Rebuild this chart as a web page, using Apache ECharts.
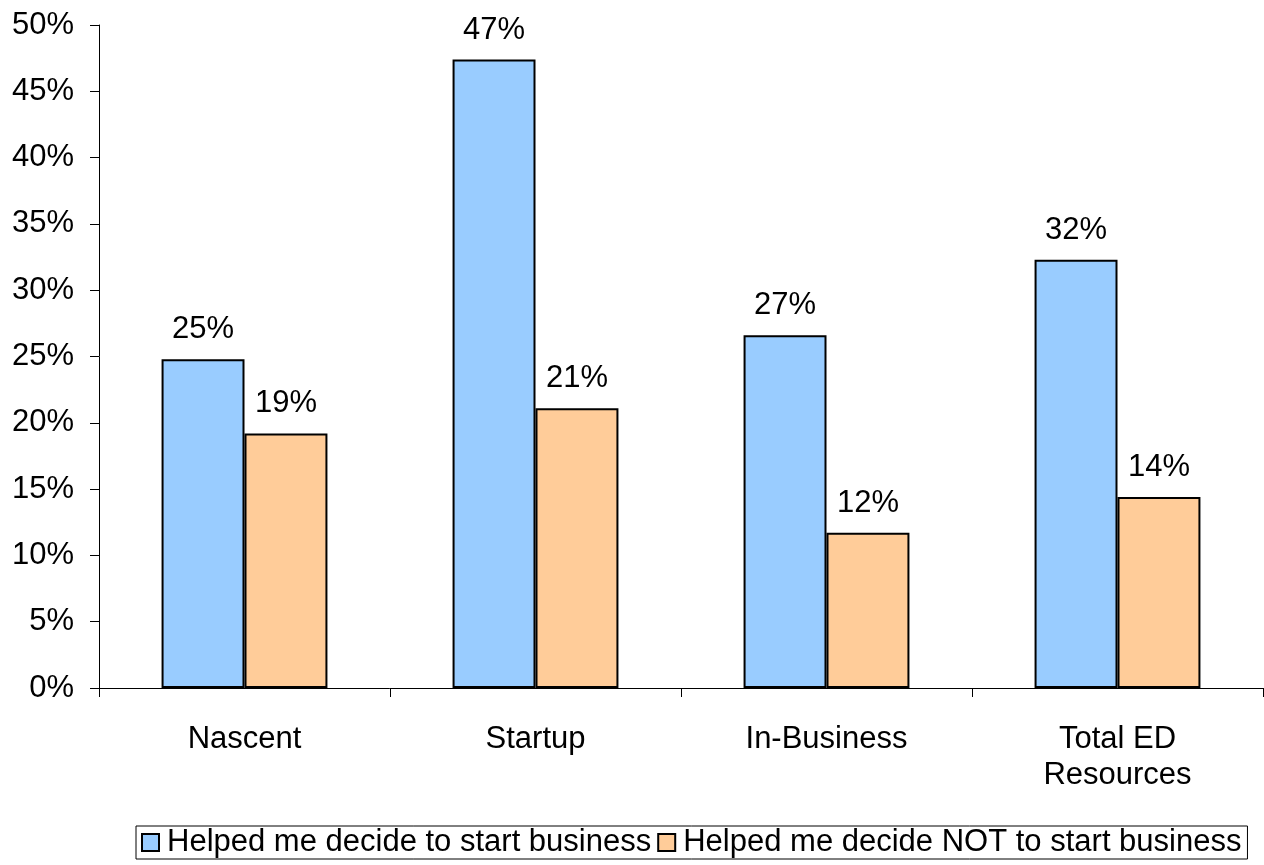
<!DOCTYPE html>
<html>
<head>
<meta charset="utf-8">
<script src="https://cdn.jsdelivr.net/npm/echarts@6/dist/echarts.min.js"></script>
<style>
html, body { margin: 0; padding: 0; background: #fff; }
#main { width: 1264px; height: 865px; }
</style>
</head>
<body>
<div id="main"></div>
<script>
var categories = ['Nascent', 'Startup', 'In-Business', 'Total ED\nResources'];
var helpedStart = [24.8, 47.4, 26.6, 32.3];
var helpedNot = [19.2, 21.1, 11.7, 14.4];
var seriesNames = ['Helped me decide to start business', 'Helped me decide NOT to start business'];

var font = 'Liberation Sans, Arial, sans-serif';
var myChart = echarts.init(document.getElementById('main'));

function labelOpt() {
	return {
		show: true,
		position: 'top',
		distance: 14,
		color: '#000',
		fontSize: 31,
		fontFamily: font,
		formatter: function (p) {
			return Math.round(p.value) + '%';
		}
	};
}

var option = {
	animation: false,
	grid: { left: 99, right: 1, top: 25, bottom: 177 },
	legend: {
		bottom: 6,
		left: 136,
		icon: 'rect',
		itemWidth: 17,
		itemHeight: 17,
		itemGap: 6,
		padding: [1, 6, 1, 5],
		borderColor: '#000',
		borderWidth: 1,
		textStyle: { color: '#000', fontSize: 31, fontFamily: font, padding: [0, 0, 0, 3] },
		data: seriesNames
	},
	xAxis: {
		type: 'category',
		data: categories,
		axisLine: { lineStyle: { color: '#000', width: 1 } },
		axisTick: { show: true, length: 9, lineStyle: { color: '#000' } },
		axisLabel: { color: '#000', fontSize: 31, fontFamily: font, margin: 33, lineHeight: 36 }
	},
	yAxis: {
		type: 'value',
		min: 0,
		max: 50,
		interval: 5,
		splitLine: { show: false },
		axisLine: { show: true, lineStyle: { color: '#000', width: 1 } },
		axisTick: { show: true, length: 9, lineStyle: { color: '#000' } },
		axisLabel: { color: '#000', fontSize: 31, fontFamily: font, margin: 25, formatter: '{value}%' }
	},
	series: [{
		name: seriesNames[0],
		type: 'bar',
		barGap: '0%',
		barCategoryGap: '43%',
		itemStyle: { color: '#99CCFF', borderColor: '#000', borderWidth: 2 },
		label: labelOpt(),
		data: helpedStart
	}, {
		name: seriesNames[1],
		type: 'bar',
		itemStyle: { color: '#FFCC99', borderColor: '#000', borderWidth: 2 },
		label: labelOpt(),
		data: helpedNot
	}]
};
myChart.setOption(option);
</script>
</body>
</html>
